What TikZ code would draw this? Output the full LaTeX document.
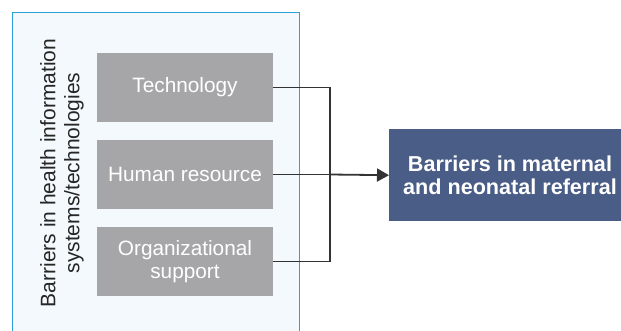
\documentclass[tikz,border=0pt]{standalone}
\usepackage{fontspec}
\setmainfont{Liberation Sans}
\usetikzlibrary{arrows.meta}
\definecolor{panelfill}{HTML}{F3F9FD}
\definecolor{panelline}{HTML}{2A9FD8}
\definecolor{factorfill}{HTML}{A6A6A8}
\definecolor{outcomefill}{HTML}{4A5D87}
\definecolor{linkcol}{HTML}{333333}
\begin{document}
\begin{tikzpicture}[x=1pt,y=-1pt,
  factor/.style={fill=factorfill,draw=none,minimum width=176pt,minimum height=69pt,
    text=white,align=center,font=\fontsize{20.8}{23}\selectfont,inner sep=0pt},
  outcome/.style={fill=outcomefill,draw=none,text=white,align=center,
    font=\fontsize{21.6}{23}\selectfont\bfseries,inner sep=0pt},
  link/.style={draw=linkcol,line width=1.8pt}]
\useasboundingbox (0,0) rectangle (621,331);
\clip (0,0) rectangle (621,331);
% outer panel
\node[fill=panelfill,draw=panelline,line width=1.3pt,minimum width=287pt,minimum height=340pt,
  inner sep=0pt,anchor=north west] (panel) at (12,12) {};
\node[rotate=90,align=center,font=\fontsize{21}{24}\selectfont,text=black!85] (paneltitle) at (62,173)
  {Barriers in health information\\systems/technologies};
% factor boxes
\node[factor] (tech) at (185,87.5) {Technology};
\node[factor] (human) at (185,174.5) {Human resource};
\node[factor] (org) at (185,261.5) {Organizational\\support};
% outcome box
\node[outcome,minimum width=251pt,minimum height=92pt,anchor=north west] (outcome) at (389,129) {};
\node[outcome,anchor=center] (outcometext) at (510,175) {Barriers in maternal\\and neonatal referral};
% connectors
\coordinate (join) at (330,174.5);
\draw[link] (tech.east) -| (join);
\draw[link] (org.east) -| (join);
\draw[link] (human.east) -- (join);
\draw[link,-{Triangle[length=12pt,width=13pt]}] (join) -- (outcome.west);
\end{tikzpicture}
\end{document}
